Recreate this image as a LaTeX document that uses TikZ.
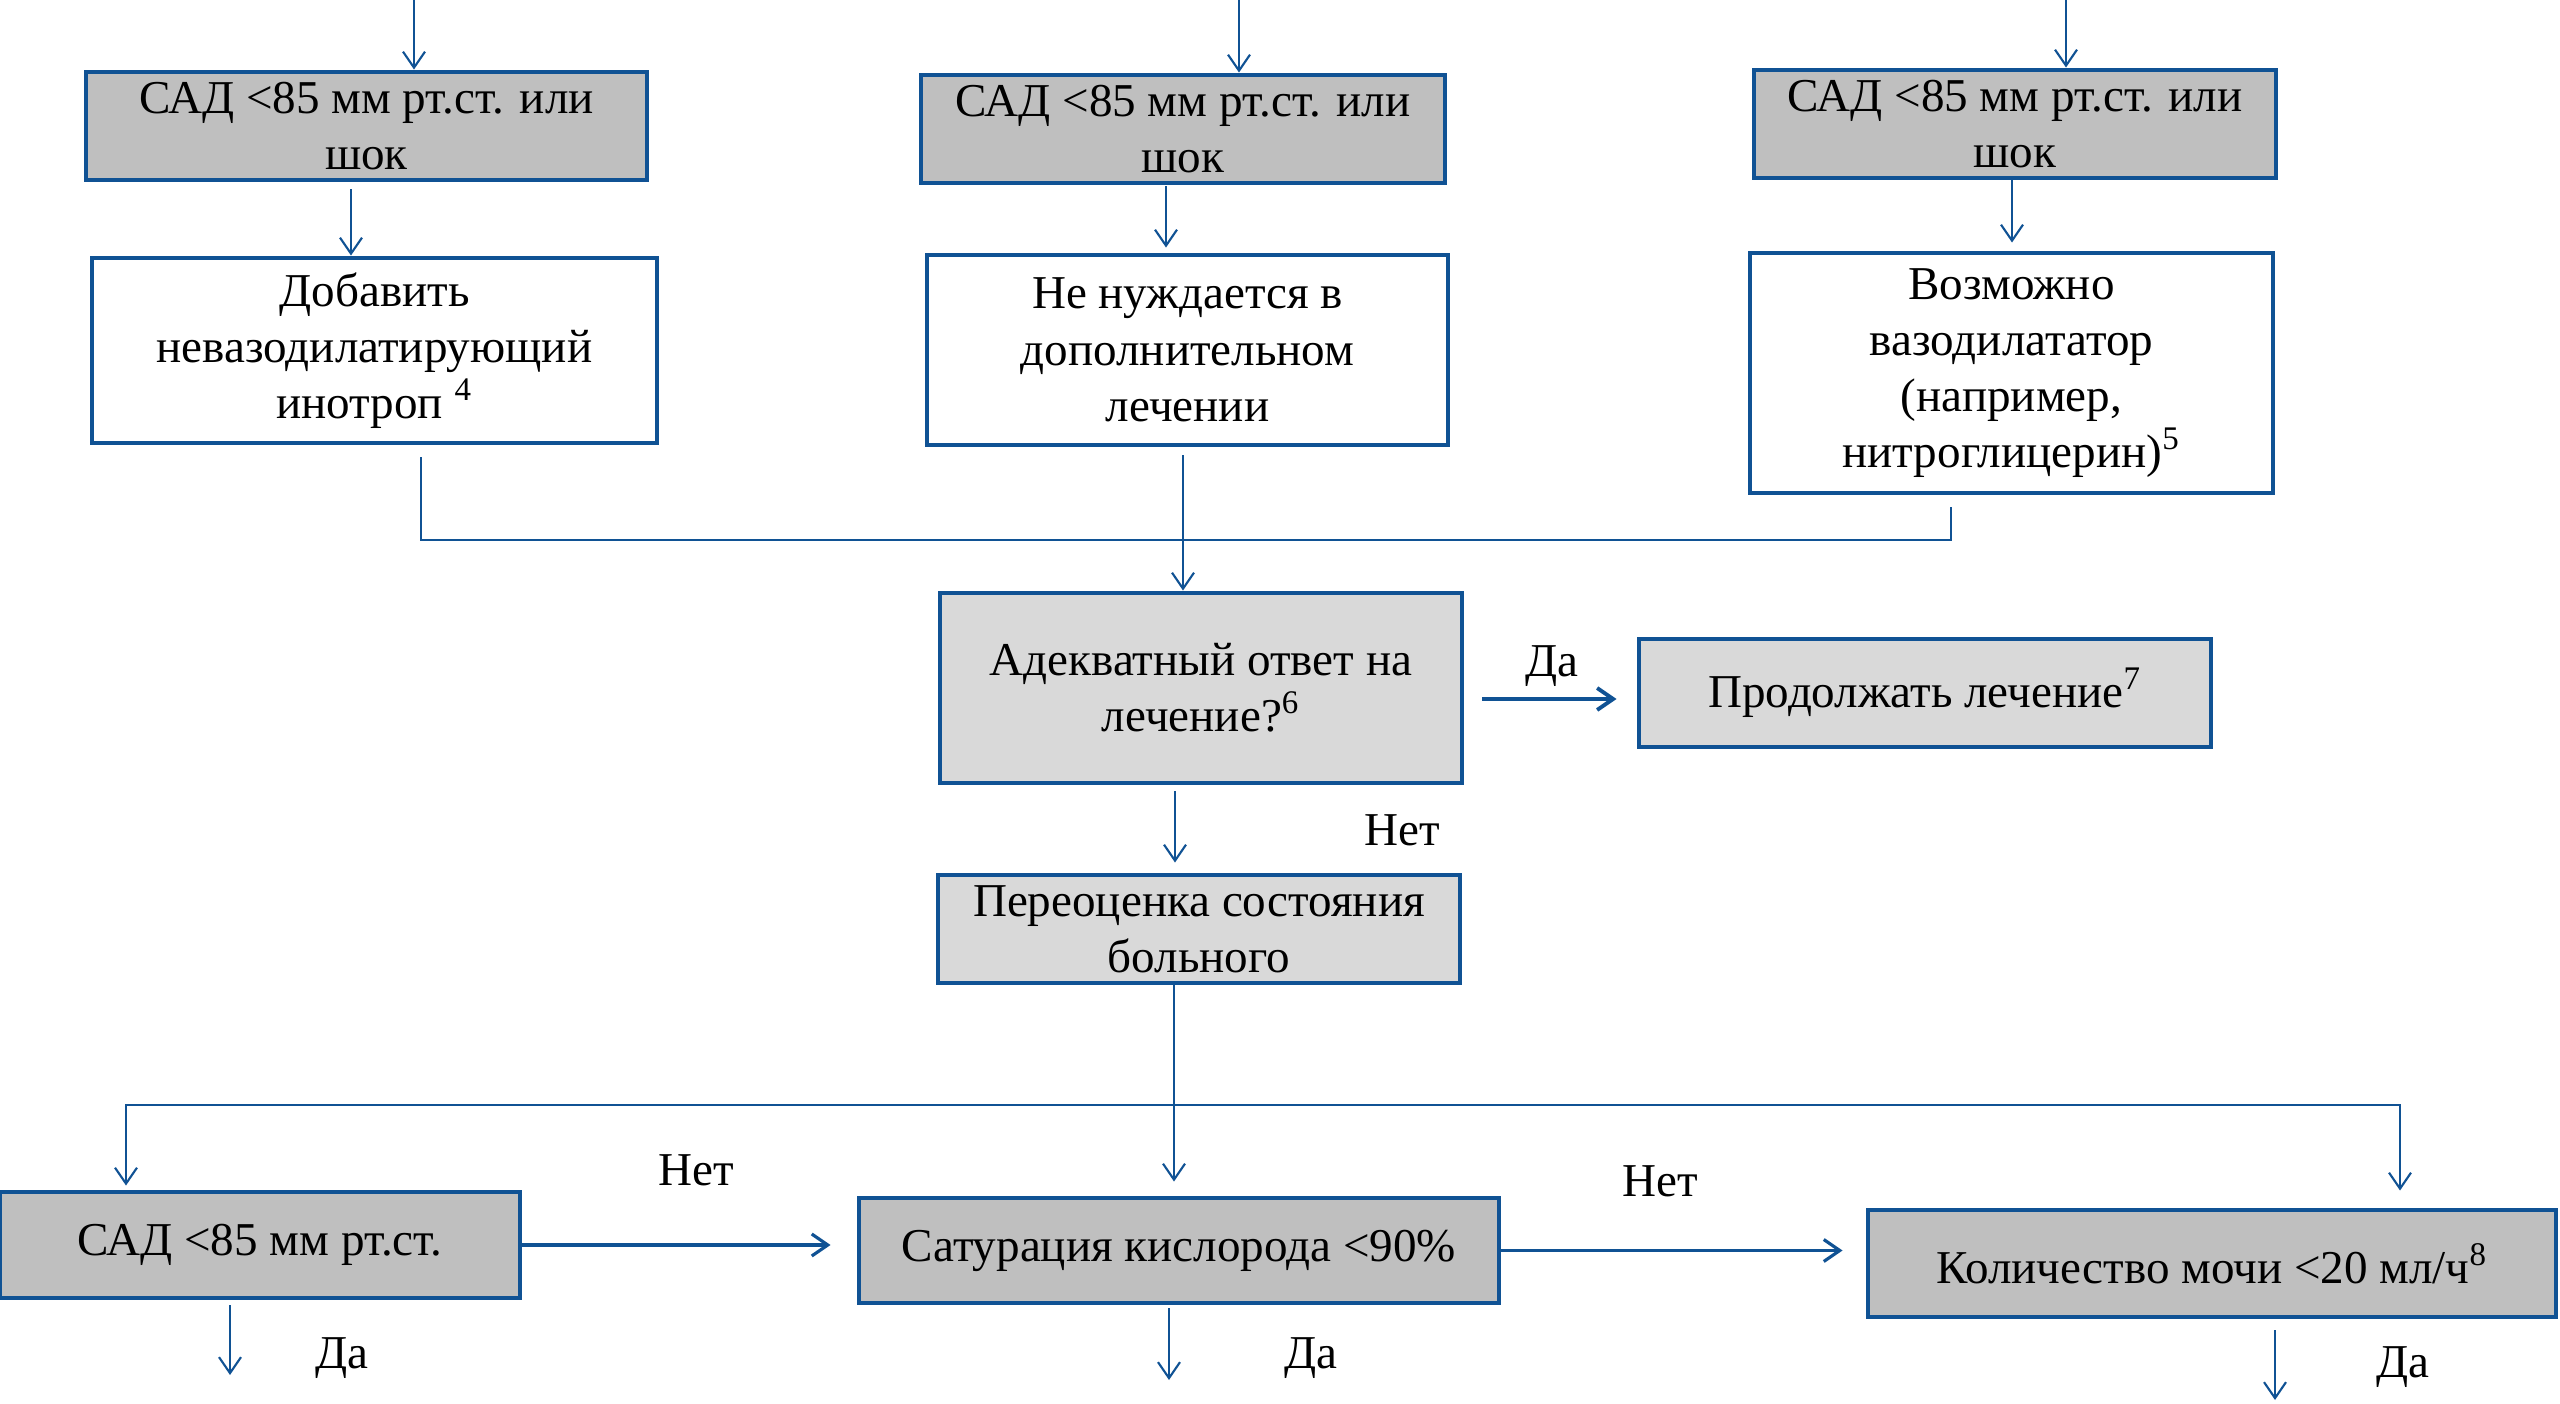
\documentclass[tikz,border=0pt]{standalone}
\usepackage{fontspec}
\setmainfont{Liberation Serif}
\usetikzlibrary{arrows.meta}
\definecolor{frameblue}{RGB}{16,82,148}
\definecolor{darkfill}{RGB}{191,191,191}
\definecolor{lightfill}{RGB}{217,217,217}
\begin{document}
\begin{tikzpicture}[
        >={Straight Barb[length=1.6mm,width=2.2mm]},
        every node/.style={font=\fontsize{13.4}{16}\selectfont},
        grey/.style={draw=frameblue, line width=1.4pt, fill=darkfill, align=center, inner sep=0pt},
        pale/.style={grey, fill=lightfill},
        plain/.style={grey, fill=white},
        link/.style={draw=frameblue, line width=0.6pt},
        lbl/.style={anchor=base}]
        \useasboundingbox[fill=white] (0,0) rectangle (25.6,-14.04);

        % Top row: blood pressure check
        \node[grey, minimum width=5.61cm, minimum height=1.08cm] (sad1) at (3.665,-1.26) {САД <85 мм рт.ст. или\\шок};
        \node[grey, minimum width=5.24cm, minimum height=1.08cm] (sad2) at (11.83,-1.29) {САД <85 мм рт.ст. или\\шок};
        \node[grey, minimum width=5.22cm, minimum height=1.08cm] (sad3) at (20.15,-1.24) {САД <85 мм рт.ст. или\\шок};

        % Second row: treatment
        \node[plain, minimum width=5.65cm, minimum height=1.85cm] (add) at (3.745,-3.505) {Добавить\\невазодилатирующий\\инотроп \textsuperscript{4}};
        \node[plain, minimum width=5.21cm, minimum height=1.90cm] (none) at (11.875,-3.50) {Не нуждается в\\дополнительном\\лечении};
        \node[plain, minimum width=5.23cm, minimum height=2.40cm] (vaso) at (20.115,-3.73) {Возможно\\вазодилататор\\(например,\\нитроглицерин)\textsuperscript{5}};

        % Response check
        \node[pale, minimum width=5.22cm, minimum height=1.90cm] (resp) at (12.01,-6.88) {Адекватный ответ на\\лечение?\textsuperscript{6}};
        \node[pale, minimum width=5.72cm, minimum height=1.08cm] (cont) at (19.25,-6.93) {Продолжать лечение\textsuperscript{7}};
        \node[pale, minimum width=5.22cm, minimum height=1.08cm] (reeval) at (11.99,-9.29) {Переоценка состояния\\больного};

        % Bottom row
        \node[grey, minimum width=5.20cm, minimum height=1.06cm] (sadLow) at (2.60,-12.45) {САД <85 мм рт.ст.};
        \node[grey, minimum width=6.40cm, minimum height=1.05cm] (satO2) at (11.79,-12.505) {Сатурация кислорода <90\%};
        \node[grey, minimum width=6.88cm, minimum height=1.07cm] (urine) at (22.12,-12.635) {Количество мочи <20 мл/ч\textsuperscript{8}};

        % Incoming arrows
        \coordinate (in1) at (4.14,0);
        \coordinate (in2) at (12.39,0);
        \coordinate (in3) at (20.66,0);
        \draw[link,->] (in1) -- (in1 |- sad1.north);
        \draw[link,->] (in2) -- (in2 |- sad2.north);
        \draw[link,->] (in3) -- (in3 |- sad3.north);
        \draw[link,->] ([xshift=-1.55mm,yshift=-.7mm]sad1.south) coordinate (t1) -- (t1 |- add.north);
        \draw[link,->] ([xshift=-1.7mm,yshift=-.1mm]sad2.south) coordinate (t2) -- ([yshift=.5mm]t2 |- none.north);
        \draw[link,->] ([xshift=-.3mm]sad3.south) coordinate (t3) -- ([yshift=.8mm]t3 |- vaso.north);

        % Joining line
        \coordinate (j1) at ([xshift=4.65mm,yshift=-1.2mm]add.south);
        \coordinate (j3) at ([xshift=-6.05mm,yshift=-1.2mm]vaso.south);
        \coordinate (bus1) at (0,-5.40);
        \draw[link] (j1) -- (j1 |- bus1) -- (j3 |- bus1) -- (j3);
        \draw[link,->] ([xshift=-.45mm,yshift=-.8mm]none.south) coordinate (j2) -- (j2 |- resp.north);

        % Yes / no
        \draw[link,->,line width=1.1pt] ([xshift=1.8mm,yshift=-.6mm]resp.east |- cont.west) -- ([xshift=-2mm,yshift=-.6mm]cont.west);
        \node[lbl] (yes1) at (15.52,-6.77) {Да};
        \draw[link,->] ([xshift=-2.6mm,yshift=-.6mm]resp.south) coordinate (t4) -- ([yshift=1mm]t4 |- reeval.north);
        \node[lbl] (no1) at (14.02,-8.46) {Нет};

        % Split to the three checks
        \coordinate (split) at ([xshift=-2.5mm]reeval.south);
        \coordinate (bus2) at (0,-11.05);
        \draw[link,->] (split) -- ([yshift=1.4mm]split |- satO2.north);
        \draw[link,->] (split |- bus2) -- ([xshift=-13.4mm]sadLow.north |- bus2) -- ([xshift=-13.4mm,yshift=.4mm]sadLow.north);
        \draw[link,->] (split |- bus2) -- ([xshift=18.8mm]urine.north |- bus2) -- ([xshift=18.8mm,yshift=1.7mm]urine.north);

        \draw[link,->,line width=.9pt] (sadLow.east) -- ([xshift=-2.6mm]satO2.west |- sadLow.east);
        \node[lbl] (no2) at (6.96,-11.86) {Нет};
        \draw[link,->,line width=.9pt] (satO2.east) -- ([xshift=-2.3mm]urine.west |- satO2.east);
        \node[lbl] (no3) at (16.60,-11.97) {Нет};

        % Exits
        \coordinate (outF) at (2.30,-13.75);
        \coordinate (outG) at (11.69,-13.80);
        \coordinate (outH) at (22.75,-14.00);
        \draw[link,->] ([yshift=-.5mm]outF |- sadLow.south) -- (outF);
        \draw[link,->] ([yshift=-.3mm]outG |- satO2.south) -- (outG);
        \draw[link,->] ([yshift=-1.1mm]outH |- urine.south) -- (outH);
        \node[lbl] (yes2) at (3.42,-13.68) {Да};
        \node[lbl] (yes3) at (13.11,-13.68) {Да};
        \node[lbl] (yes4) at (24.03,-13.77) {Да};
\end{tikzpicture}
\end{document}
